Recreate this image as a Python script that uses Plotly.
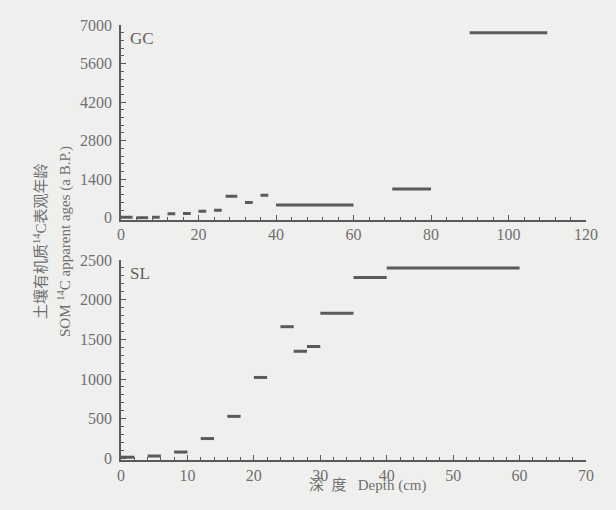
import plotly.graph_objects as go
from plotly.subplots import make_subplots

# GC core: depth intervals (cm) and apparent 14C ages (a B.P.)
gc_start = [0, 4, 8, 12, 16, 20, 24, 27, 32, 36, 40, 70, 90]
gc_end = [3, 7, 10, 14, 18, 22, 26, 30, 34, 38, 60, 80, 110]
gc_age = [20, 0, 20, 150, 160, 240, 280, 780, 560, 820, 470, 1050, 6720]

# SL core
sl_start = [0, 4, 8, 12, 16, 20, 24, 26, 28, 30, 35, 40]
sl_end = [2, 6, 10, 14, 18, 22, 26, 28, 30, 35, 40, 60]
sl_age = [15, 30, 80, 250, 530, 1020, 1660, 1350, 1410, 1830, 2280, 2400]

gc_ticks_x = [0, 20, 40, 60, 80, 100, 120]
gc_ticks_y = [0, 1400, 2800, 4200, 5600, 7000]
sl_ticks_x = [0, 10, 20, 30, 40, 50, 60, 70]
sl_ticks_y = [0, 500, 1000, 1500, 2000, 2500]


def seg_xy(starts, ends, vals):
    xs, ys = [], []
    for s, e, v in zip(starts, ends, vals):
        xs += [s, e, None]
        ys += [v, v, None]
    return xs, ys


W, H = 616, 510
ml, mr, mt, mb = 121, 30, 20, 50
ph = H - mt - mb
pw = W - ml - mr


def dom(top_px, bot_px):
    return [(H - mb - bot_px) / ph, (H - mb - top_px) / ph]


fig = make_subplots(rows=2, cols=1)

seg_color = "#5a5a5a"
gx, gy = seg_xy(gc_start, gc_end, gc_age)
sx, sy = seg_xy(sl_start, sl_end, sl_age)
fig.add_trace(go.Scatter(x=gx, y=gy, mode="lines", line=dict(color=seg_color, width=3),
                         showlegend=False, hoverinfo="skip"), row=1, col=1)
fig.add_trace(go.Scatter(x=sx, y=sy, mode="lines", line=dict(color=seg_color, width=3),
                         showlegend=False, hoverinfo="skip"), row=2, col=1)

tickfont = dict(family="'Liberation Serif', serif", size=16, color="#707070")
axis_common = dict(showline=True, linecolor="#5a5a5a", linewidth=1.5, showgrid=False,
                   zeroline=False, ticks="inside", ticklen=5, tickcolor="#5a5a5a",
                   tickfont=tickfont, mirror=False)

fig.update_xaxes(range=[0, 120], tickvals=gc_ticks_x,
                 minor=dict(dtick=4, ticks="inside", ticklen=3, tickcolor="#5a5a5a"),
                 **axis_common, row=1, col=1)
fig.update_yaxes(range=[-60, 7000], tickvals=gc_ticks_y, domain=dom(25, 219.5),
                 ticklabelstandoff=4,
                 minor=dict(dtick=280, ticks="inside", ticklen=3, tickcolor="#5a5a5a"),
                 **axis_common, row=1, col=1)
fig.update_xaxes(range=[0, 70], tickvals=sl_ticks_x,
                 minor=dict(dtick=2, ticks="inside", ticklen=3, tickcolor="#5a5a5a"),
                 **axis_common, row=2, col=1)
fig.update_yaxes(range=[-20, 2500], tickvals=sl_ticks_y, domain=dom(260, 460),
                 ticklabelstandoff=4,
                 minor=dict(dtick=100, ticks="inside", ticklen=3, tickcolor="#5a5a5a"),
                 **axis_common, row=2, col=1)

txtfont = dict(family="'Liberation Serif', 'Noto Sans CJK SC', serif", size=15, color="#707070")
fig.update_layout(
    width=W, height=H,
    margin=dict(l=ml, r=mr, t=mt, b=mb),
    paper_bgcolor="#efefed", plot_bgcolor="#efefed",
    annotations=[
        dict(text="GC", xref="x domain", yref="y domain", x=0.015, y=0.99,
             xanchor="left", yanchor="top", showarrow=False,
             font=dict(family="'Liberation Serif', serif", size=17, color="#606060")),
        dict(text="SL", xref="x2 domain", yref="y2 domain", x=0.015, y=0.99,
             xanchor="left", yanchor="top", showarrow=False,
             font=dict(family="'Liberation Serif', serif", size=17, color="#606060")),
        dict(text="土壤有机质<sup>14</sup>C表观年龄", xref="paper", yref="paper",
             x=(40 - ml) / pw, y=(H - mb - 241) / ph, xanchor="center", yanchor="middle",
             textangle=-90, showarrow=False, font=txtfont),
        dict(text="SOM <sup>14</sup>C apparent ages (a B.P.)", xref="paper", yref="paper",
             x=(64 - ml) / pw, y=(H - mb - 242) / ph, xanchor="center", yanchor="middle",
             textangle=-90, showarrow=False, font=txtfont),
        dict(text="深&nbsp;&nbsp;度&nbsp;&nbsp;&nbsp;Depth (cm)", xref="paper", yref="paper",
             x=(367 - ml) / pw, y=(H - mb - 485) / ph,
             xanchor="center", yanchor="middle", showarrow=False, font=txtfont),
    ],
)

fig.write_html("out.html", config={"displayModeBar": False},
               post_script="document.body.style.margin='0';document.body.style.background='#efefed';")
